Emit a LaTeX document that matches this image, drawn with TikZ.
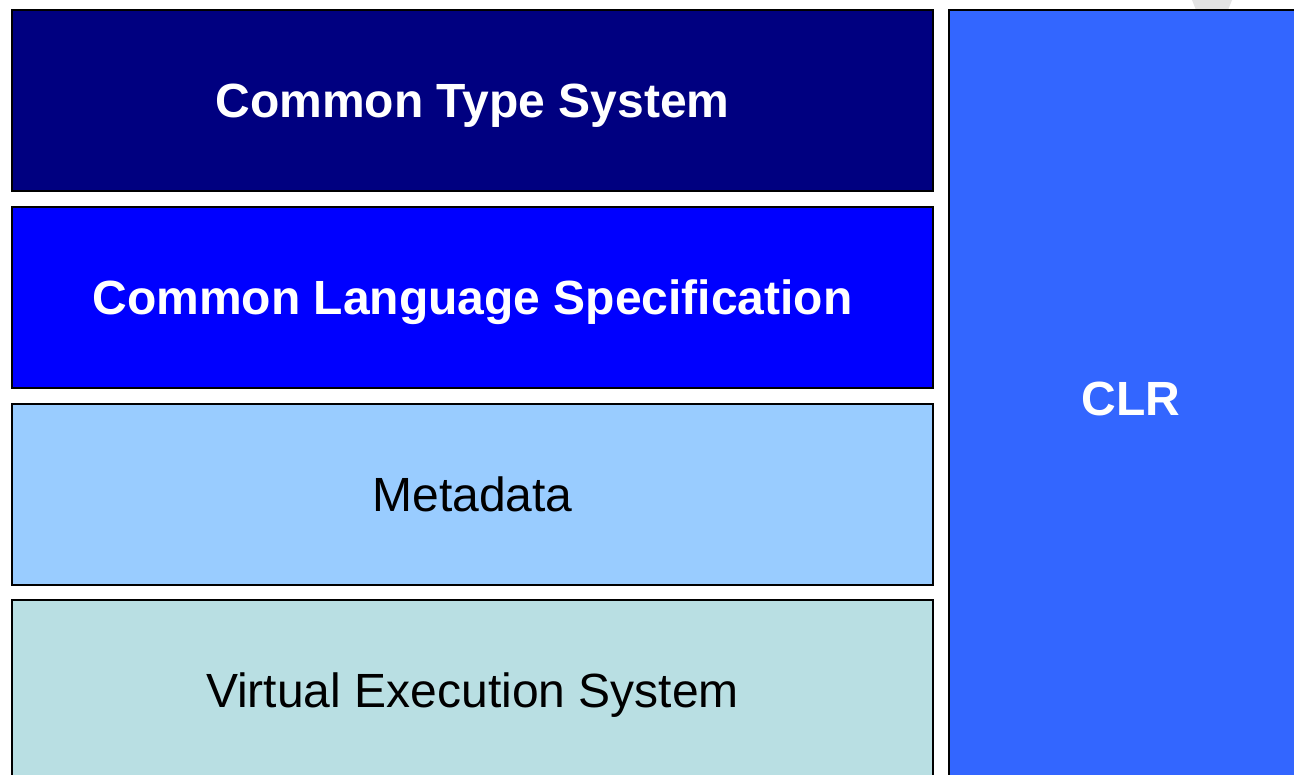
\documentclass[tikz,border=0pt]{standalone}
\usepackage{fontspec}
\setmainfont{Liberation Sans}
\definecolor{ctsnavy}{HTML}{000080}
\definecolor{clsblue}{HTML}{0000FF}
\definecolor{metablue}{HTML}{99CCFF}
\definecolor{vesteal}{HTML}{B9DFE3}
\definecolor{clrblue}{HTML}{3366FF}
\definecolor{shadegray}{HTML}{E3E3E3}
\begin{document}
\begin{tikzpicture}[x=1pt,y=-1pt,
  layer/.style={draw=black, line width=2pt, minimum width=921pt, minimum height=181pt, inner sep=0pt, anchor=north west, text height=34.4pt, text depth=0pt},
  boldtext/.style={text=white, font=\fontsize{48}{56}\selectfont\bfseries},
  plaintext/.style={text=black, font=\fontsize{48}{56}\selectfont}]
\useasboundingbox (0,0) rectangle (1294,775);
\fill[white] (0,0) rectangle (1294,775);
\fill[shadegray] (1192,0) -- (1232,0) -- (1228,10) -- (1196,10) -- cycle;
\node[layer, fill=ctsnavy, boldtext] (cts) at (11,9) {Common Type System};
\node[layer, fill=clsblue, boldtext] (cls) at (11,206) {Common Language Specification};
\node[layer, fill=metablue, plaintext] (meta) at (11,403) {Metadata};
\node[layer, fill=vesteal, plaintext] (ves) at (11,599) {Virtual Execution System};
\node[draw=black, line width=2pt, fill=clrblue, boldtext, minimum width=364pt, minimum height=777pt, inner sep=0pt, anchor=north west, text height=34.4pt, text depth=0pt] (clr) at (948,9) {CLR};
\end{tikzpicture}
\end{document}
